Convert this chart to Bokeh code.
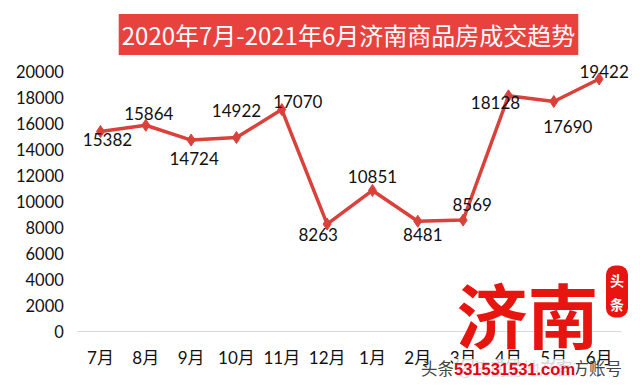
from bokeh.plotting import figure
from bokeh.models import ColumnDataSource, Range1d, FixedTicker, Label
from bokeh.core.properties import value
from bokeh.embed import file_html
from bokeh.resources import INLINE

# Monthly new-home transactions in Jinan, Jul 2020 - Jun 2021
months = ["7月", "8月", "9月", "10月", "11月", "12月", "1月", "2月", "3月", "4月", "5月", "6月"]
deals = [15382, 15864, 14724, 14922, 17070, 8263, 10851, 8481, 8569, 18128, 17690, 19422]
y_ticks = [0, 2000, 4000, 6000, 8000, 10000, 12000, 14000, 16000, 18000, 20000]
title_text = "2020年7月-2021年6月济南商品房成交趋势"

# pixel nudges for each value label, relative to its point
label_dx = [7, 3, 3, 0, 16, -9, 0, 5, 9, -13, 14, 5]
label_dy = [8, -12, 18, -27, -8, 10, -14, 13, -16, 7, 25, -8]

W, H = 640, 385
# plot area geometry in canvas pixels
AREA_LEFT, AREA_RIGHT = 77.3, 621.3
ZERO_Y, TOP_Y = 331, 71          # pixel rows of 0 and of 20000
STEP = (AREA_RIGHT - AREA_LEFT) / len(months)
PX_PER_UNIT = (ZERO_Y - TOP_Y) / 20000

LATIN = "Lato, 'Noto Sans CJK SC', sans-serif"
CJK = "'Noto Sans CJK SC', sans-serif"
RED = "#d9413b"

idx = list(range(len(months)))
src = ColumnDataSource(dict(
    x=idx,
    deals=deals,
    txt=[str(v) for v in deals],
    dx=label_dx,
    dy=label_dy,
))

# the frame fills the whole canvas; the axes sit at fixed positions inside it
x_start = -(AREA_LEFT / STEP) - 0.5
x_end = x_start + W / STEP
y_start = -(H - ZERO_Y) / PX_PER_UNIT
y_end = ZERO_Y / PX_PER_UNIT

p = figure(
    width=W, height=H,
    x_range=Range1d(x_start, x_end),
    y_range=Range1d(y_start, y_end),
    output_backend="svg", toolbar_location=None,
    min_border=0,
    background_fill_color="white", border_fill_color="white",
    x_axis_location="below", y_axis_location="left",
)
p.outline_line_color = None
p.grid.visible = False

xa = p.xaxis[0]
xa.fixed_location = 0
xa.bounds = (-0.5, len(months) - 0.5)
xa.ticker = FixedTicker(ticks=idx)
xa.major_label_overrides = {i: m for i, m in zip(idx, months)}
xa.axis_line_color = "#d9d9d9"
xa.axis_line_width = 1
xa.major_tick_line_color = None
xa.minor_tick_line_color = None
xa.major_tick_out = 0
xa.major_tick_in = 0
xa.major_label_standoff = 15
xa.major_label_text_font = LATIN
xa.major_label_text_font_size = "17px"
xa.major_label_text_color = "#111111"

ya = p.yaxis[0]
ya.fixed_location = -0.5
ya.ticker = FixedTicker(ticks=y_ticks)
ya.axis_line_color = None
ya.major_tick_line_color = None
ya.minor_tick_line_color = None
ya.major_tick_out = 0
ya.major_tick_in = 0
ya.major_label_standoff = 14
ya.major_label_text_font = LATIN
ya.major_label_text_font_size = "16.5px"
ya.major_label_text_color = "#111111"

p.line("x", "deals", source=src, line_color=RED, line_width=3.5)
p.scatter("x", "deals", source=src, marker="diamond", size=12,
          fill_color=RED, line_color=RED)
p.text("x", "deals", text="txt", source=src, x_offset="dx", y_offset="dy",
       text_align="center", text_baseline="middle",
       text_font=value(LATIN), text_font_size="17px", text_color="#111111")


def screen(x, y):
    """Canvas pixel position (from top-left) -> screen units from bottom-left."""
    return x, H - y


def place(x, y, text, **kw):
    sx, sy = screen(x, y)
    p.add_layout(Label(x=sx, y=sy, x_units="screen", y_units="screen", text=text,
                       text_align="center", text_baseline="middle", **kw))


# title banner
place(348, 34, title_text, text_font=CJK, text_font_size="24px", text_color="white",
      background_fill_color="#e8423f", padding=3)

# brand marks in the lower right
place(527, 311, "济南", text_font=CJK, text_font_size="71px", text_font_style="bold",
      text_color="#e8140f")
place(616.5, 291, "头\n条", text_font=CJK, text_font_size="14px", text_font_style="bold",
      text_color="white", background_fill_color="#e8140f", padding=4, border_radius=9)
place(521, 367, "头条 @济南房地产官方账号", text_font=CJK, text_font_size="16.5px",
      text_color="#444444")
place(514, 368.5, "531531531.com", text_font="'Liberation Sans', sans-serif",
      text_font_size="16.5px", text_font_style="bold", text_color="#e60012",
      background_fill_color="white", background_fill_alpha=0.8, padding=1)

open("out.html", "w").write(file_html(p, INLINE))
